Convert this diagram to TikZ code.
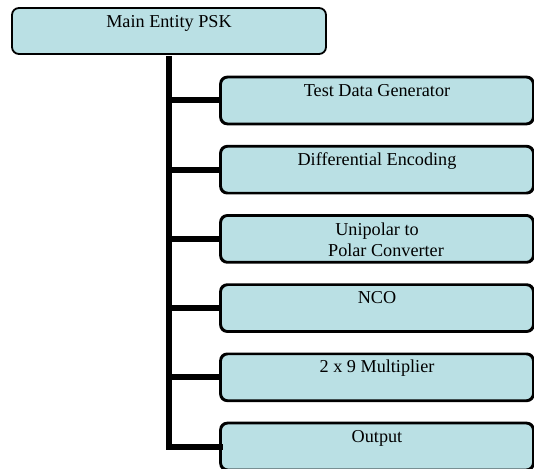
\documentclass[tikz,border=0pt]{standalone}
\usepackage{fontspec}
\setmainfont{Liberation Serif}
\definecolor{boxfill}{RGB}{186,224,228}
\begin{document}
\begin{tikzpicture}[x=1pt,y=1pt,
  blockbox/.style={draw=black, line width=1.8pt, fill=boxfill,
    rounded corners=7pt, inner sep=0pt, minimum height=46pt},
  childbox/.style={blockbox, minimum width=312pt},
  boxtext/.style={anchor=base, inner sep=0pt,
    font=\fontsize{18.2}{21}\selectfont},
  branch/.style={line width=6pt, line cap=rect}
]
\useasboundingbox (0,0) rectangle (534,468);

% top-level block
\node[blockbox, minimum width=314pt] (main) at (169,437) {};
\node[boxtext] (maint) at ([yshift=-20.5pt]main.north) {Main Entity PSK};

% child blocks, evenly spaced
\node[childbox] (tdg) at (377,367.5) {};
\node[childbox] (denc) at (377,298.3) {};
\node[childbox] (upc) at (377,229.1) {};
\node[childbox] (nco) at (377,159.9) {};
\node[childbox] (mult) at (377,90.7) {};
\node[childbox] (out) at (377,21.5) {};

\node[boxtext] (tdgt) at ([yshift=-19.5pt]tdg.north) {Test Data Generator};
\node[boxtext] (denct) at ([yshift=-19.5pt]denc.north) {Differential Encoding};
\node[boxtext] (upct) at ([yshift=-20.5pt]upc.north) {Unipolar to};
\node[boxtext] (upct2) at ([xshift=9pt,yshift=-41.5pt]upc.north) {Polar Converter};
\node[boxtext] (ncot) at ([yshift=-19.5pt]nco.north) {NCO};
\node[boxtext] (multt) at ([yshift=-19.5pt]mult.north) {2 x 9 Multiplier};
\node[boxtext] (outt) at ([yshift=-19.5pt]out.north) {Output};

% tree connectors
\draw[branch, line cap=butt] ([yshift=-1pt]main.south) -- (main.south |- out.west);
\draw[branch] (main.south |- out.west) -- (out.west);
\foreach \n in {tdg,denc,upc,nco,mult}
  \draw[branch, line cap=butt] (main.south |- \n.west) -- (\n.west);

% redraw the block outlines over the connector ends
\foreach \n in {tdg,denc,upc,nco,mult,out}
  \draw[line width=1.8pt, rounded corners=7pt] (\n.south west) rectangle (\n.north east);
\end{tikzpicture}
\end{document}
